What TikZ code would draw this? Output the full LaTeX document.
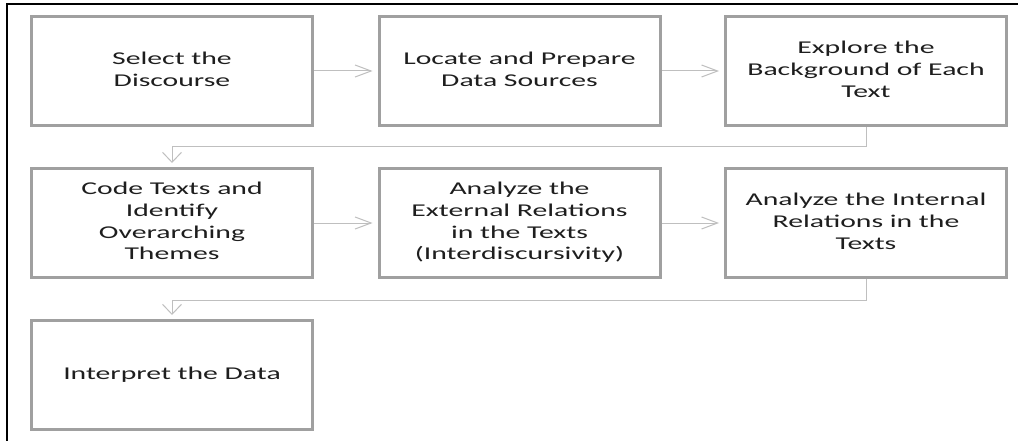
\documentclass[tikz,border=0pt]{standalone}
\usepackage{fontspec}
\usepackage{graphicx}
\setmainfont{Carlito}
\usetikzlibrary{arrows.meta}
\definecolor{boxColor}{RGB}{160,160,160}
\definecolor{linkColor}{RGB}{191,191,191}
\definecolor{labelColor}{RGB}{30,30,30}
\tikzstyle{flowchart} = [x = 1pt, y = -1pt]
\tikzstyle{stepBox} = [draw=boxColor, line width=3pt, fill=white, minimum width=281pt, minimum height=109pt, inner sep=0pt, text=labelColor, font=\fontsize{18}{21.7}\selectfont]
\tikzstyle{stepLink} = [draw=linkColor, line width=1pt]
\tikzstyle{sideArrow} = [stepLink, -{Straight Barb[length=16pt, width=12pt]}, shorten >=5pt]
\tikzstyle{downArrow} = [stepLink, -{Straight Barb[length=10pt, width=19pt]}, shorten >=4pt]
\newcommand{\stepText}[1]{\scalebox{1.65}[1]{\begin{tabular}{@{}c@{}}#1\end{tabular}}}
\begin{document}
\begin{tikzpicture}[flowchart]
    \useasboundingbox (0,0) rectangle (1018,441);
    \draw [line width=1.5pt] (1018,4) -- (7,4) -- (7,441);
    \node [stepBox] (select) at (172,71) {\stepText{Select the\\Discourse}};
    \node [stepBox] (locate) at (519.5,71) {\stepText{Locate and Prepare\\Data Sources}};
    \node [stepBox] (explore) at (866,71) {\stepText{Explore the\\Background of Each\\Text}};
    \node [stepBox] (code) at (172,223) {\stepText{Code Texts and\\Identify\\Overarching\\Themes}};
    \node [stepBox] (external) at (519.5,223) {\stepText{Analyze the\\External Relations\\in the Texts\\(Interdiscursivity)}};
    \node [stepBox] (internal) at (866,223) {\stepText{Analyze the Internal\\Relations in the\\Texts}};
    \node [stepBox] (interpret) at (172,375) {\stepText{Interpret the Data}};
    \draw [sideArrow] (select) -- (locate);
    \draw [sideArrow] (locate) -- (explore);
    \draw [downArrow] (explore.south) -- ++(0,20) -| (code.north);
    \draw [sideArrow] (code) -- (external);
    \draw [sideArrow] (external) -- (internal);
    \draw [downArrow] (internal.south) -- ++(0,21) -| (interpret.north);
\end{tikzpicture}
\end{document}
